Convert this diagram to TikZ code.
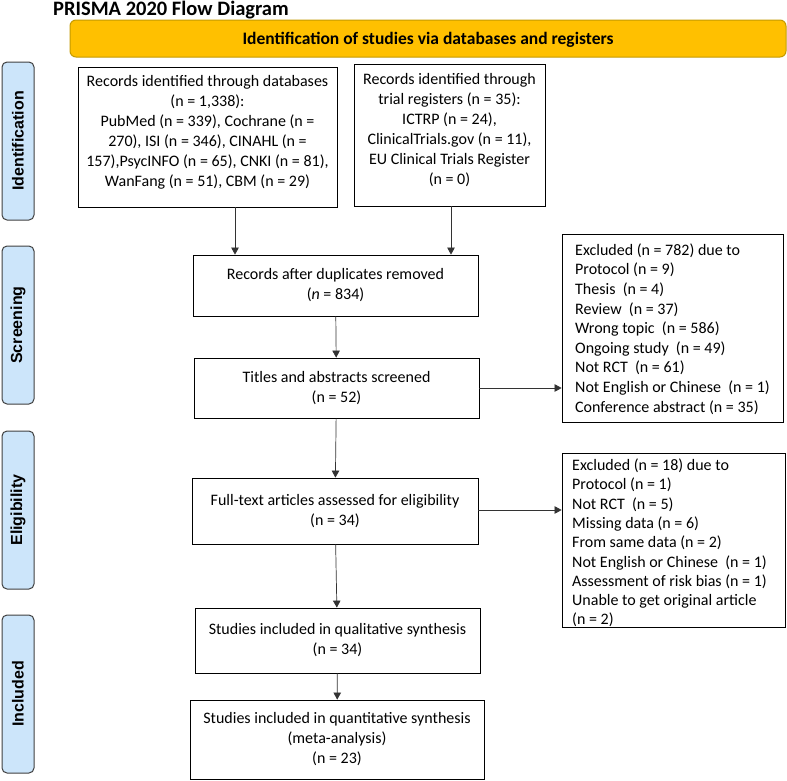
\documentclass[tikz,border=0pt]{standalone}
\usepackage{fontspec}
\setmainfont{Carlito}
\newfontfamily\sidefont{Liberation Sans}
\usetikzlibrary{arrows.meta}
\definecolor{ybar}{HTML}{FFC000}
\definecolor{ybord}{HTML}{C49A00}
\definecolor{sidefill}{HTML}{CCE5FA}
\definecolor{sidebord}{HTML}{404040}
\tikzset{
  box/.style={draw=black, line width=0.8pt, inner sep=0pt, fill=white},
  txt/.style={inner sep=0pt, align=center, font=\fontsize{16}{20}\selectfont},
  ltxt/.style={inner sep=0pt, align=left, anchor=west, font=\fontsize{16}{19.6}\selectfont},
  side/.style={draw=sidebord, fill=sidefill, line width=1pt, rounded corners=5pt,
    rotate=90, minimum width=158pt, minimum height=32pt, inner sep=0pt,
    font=\sidefont\bfseries\fontsize{16}{18}\selectfont},
  arr/.style={draw=black!80, line width=0.7pt, -{Triangle[length=7pt,width=7.5pt]}}
}
\begin{document}
\begin{tikzpicture}[x=1pt,y=-1pt]
\useasboundingbox (0,0) rectangle (787,780);
% title
\node[inner sep=0pt, anchor=base west, font=\bfseries\fontsize{20.5}{22}\selectfont] (title) at (53,15) {PRISMA 2020 Flow Diagram};
% yellow header
\node[draw=ybord, fill=ybar, line width=1pt, rounded corners=6pt, minimum width=716pt, minimum height=37pt, inner sep=0pt] (hdr) at (428,38.5) {};
\node[inner sep=0pt, anchor=base, font=\bfseries\fontsize{17.5}{19}\selectfont] (hdrt) at (428,44.5) {Identification of studies via databases and registers};
% side labels
\node[side] (s1) at (18,141) {Identification};
\node[side] (s2) at (18,325) {Screening};
\node[side] (s3) at (18,510) {Eligibility};
\node[side] (s4) at (18,694) {Included};
% boxes
\node[box, minimum width=259pt, minimum height=140pt] (b1) at (207.5,137) {};
\node[txt] (t1) at (207.5,132.5) {Records identified through databases\\(n = 1,338):\\PubMed (n = 339), Cochrane (n =\\270), ISI (n = 346), CINAHL (n =\\157),PsycINFO (n = 65), CNKI (n = 81),\\WanFang (n = 51), CBM (n = 29)};
\node[box, minimum width=191pt, minimum height=142pt] (b2) at (449.5,135) {};
\node[txt] (t2) at (449.5,130.5) {Records identified through\\trial registers (n = 35):\\ICTRP (n = 24),\\ClinicalTrials.gov (n = 11),\\EU Clinical Trials Register\\(n = 0)};
\node[box, txt, minimum width=285pt, minimum height=61pt] (b3) at (335.5,285.5) {Records after duplicates removed\\(\textit{n} = 834)};
\node[box, txt, minimum width=285pt, minimum height=60pt] (b4) at (336.5,388) {Titles and abstracts screened\\(n = 52)};
\node[box, txt, minimum width=286pt, minimum height=66pt] (b5) at (335,511) {Full-text articles assessed for eligibility\\(n = 34)};
\node[box, txt, minimum width=285pt, minimum height=65pt] (b6) at (337.5,640.5) {Studies included in qualitative synthesis\\(n = 34)};
\node[box, txt, minimum width=294pt, minimum height=79pt] (b7) at (337,739.5) {Studies included in quantitative synthesis\\(meta-analysis)\\(n = 23)};
% exclusion boxes
\node[box, minimum width=221pt, minimum height=188pt] (e1) at (672.5,328) {};
\node[ltxt] (et1) at (575,329) {Excluded (n = 782) due to\\Protocol (n = 9)\\Thesis~ (n = 4)\\Review~ (n = 37)\\Wrong topic~ (n = 586)\\Ongoing study~ (n = 49)\\Not RCT~ (n = 61)\\Not English or Chinese~ (n = 1)\\Conference abstract (n = 35)};
\node[box, minimum width=223pt, minimum height=174pt] (e2) at (673.5,540) {};
\node[ltxt, font=\fontsize{16}{19.3}\selectfont] (et2) at (572,543) {Excluded (n = 18) due to\\Protocol (n = 1)\\Not RCT~ (n = 5)\\Missing data (n = 6)\\From same data (n = 2)\\Not English or Chinese~ (n = 1)\\Assessment of risk bias (n = 1)\\Unable to get original article\\(n = 2)};
% connectors
\draw[arr] ([xshift=27.5pt]b1.south) -- ([xshift=27.5pt]b1.south |- b3.north);
\draw[arr] ([xshift=1.5pt]b2.south) -- ([xshift=1.5pt]b2.south |- b3.north);
\draw[arr] (b3) -- (b4);
\draw[arr] (b4.east) -- (b4.east -| e1.west);
\draw[arr] (b4) -- (b5);
\draw[arr] ([yshift=1pt]b5.east) -- ([yshift=1pt]b5.east -| e2.west);
\draw[arr] (b5) -- (b6);
\draw[arr] (b6) -- (b7);
\end{tikzpicture}
\end{document}
